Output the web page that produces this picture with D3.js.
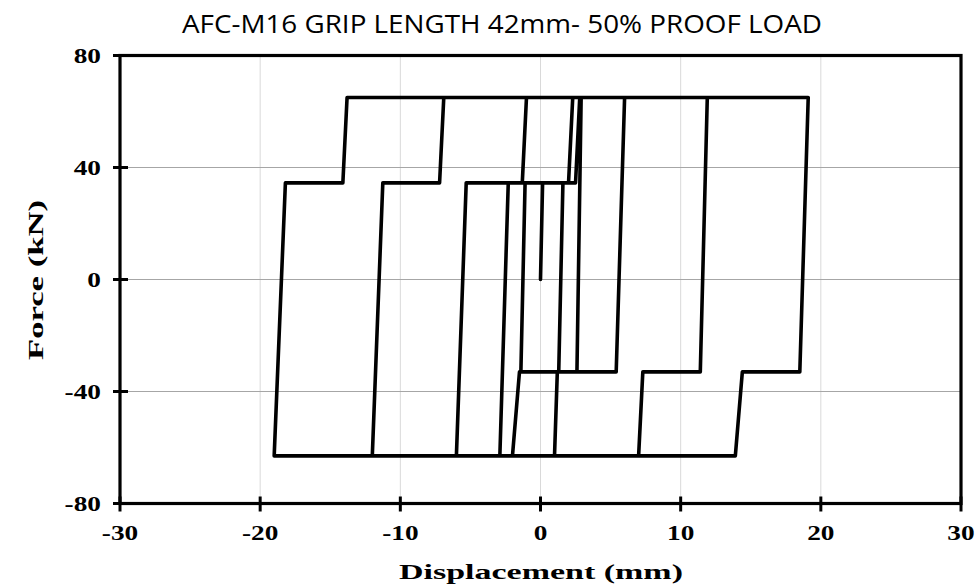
<!DOCTYPE html>
<html>
<head>
<meta charset="utf-8">
<script src="https://cdn.jsdelivr.net/npm/d3@7"></script>
<style>
  body { margin: 0; background: #fff; }
  .tick-label { font-family: "Liberation Serif", "Times New Roman", serif; font-weight: bold; font-size: 21px; }
  .axis-title { font-family: "Liberation Serif", "Times New Roman", serif; font-weight: bold; font-size: 22px; }
  .chart-title { font-family: "Open Sans", "Noto Sans", sans-serif; font-size: 25px; }
</style>
</head>
<body>
<div id="chart"></div>
<script>
// hysteresis record, displacement (mm) and force (kN)
var disp  = [0, 0.15, 1.6, 1.3, -1.4, -1.1, 2.0, 2.3, 2.9, 2.6,
             -1.5, -2.0, -2.9, -2.3, 2.5, 2.8, 6.0, 5.4, 1.2, 1.0,
             -6.0, -5.3, -1.3, -1.0, 11.9, 11.4, 7.3, 7.0, -12.0, -11.25,
             -7.2, -6.9, 19.1, 18.5, 14.4, 13.9, -19.0, -18.2, -14.1, -13.8,
             19.1];
var force = [0, 34.5, 34.5, -33, -33, 34.5, 34.5, 65, 65, -33,
             -33, -63, -63, 34.5, 34.5, 65, 65, -33, -33, -63,
             -63, 34.5, 34.5, 65, 65, -33, -33, -63, -63, 34.5,
             34.5, 65, 65, -33, -33, -63, -63, 34.5, 34.5, 65,
             65];

var xTicks = [-30, -20, -10, 0, 10, 20, 30];
var yTicks = [-80, -40, 0, 40, 80];
var xGrid = [-20, -10, 0, 10, 20];
var yGrid = [-40, 0, 40];

var W = 979, H = 588;
var margin = {top: 55.5, right: 18, bottom: 84.5, left: 120},
    width = W - margin.left - margin.right,
    height = H - margin.top - margin.bottom;

var svg = d3.select("#chart")
  .append("svg")
    .attr("width", W)
    .attr("height", H);

var g = svg.append("g")
    .attr("transform", "translate(" + margin.left + "," + margin.top + ")");

var x = d3.scaleLinear().domain([-30, 30]).range([0, width]);
var y = d3.scaleLinear().domain([-80, 80]).range([height, 0]);

// gridlines
g.selectAll(".vgrid")
  .data(xGrid)
  .enter()
  .append("line")
  .attr("x1", function(d) { return x(d); })
  .attr("x2", function(d) { return x(d); })
  .attr("y1", 0)
  .attr("y2", height)
  .attr("stroke", "#d9d9d9")
  .attr("stroke-width", 1);

g.selectAll(".hgrid")
  .data(yGrid)
  .enter()
  .append("line")
  .attr("x1", 0)
  .attr("x2", width)
  .attr("y1", function(d) { return y(d); })
  .attr("y2", function(d) { return y(d); })
  .attr("stroke", "#a6a6a6")
  .attr("stroke-width", 1.2);

// the curve
var line = d3.line()
  .x(function(i) { return x(disp[i]); })
  .y(function(i) { return y(force[i]); });

g.append("path")
  .datum(d3.range(disp.length))
  .attr("d", line)
  .attr("fill", "none")
  .attr("stroke", "#000")
  .attr("stroke-width", 3.6)
  .attr("stroke-linejoin", "round")
  .attr("stroke-linecap", "round");

// frame
g.append("rect")
  .attr("x", 0).attr("y", 0)
  .attr("width", width).attr("height", height)
  .attr("fill", "none")
  .attr("stroke", "#000")
  .attr("stroke-width", 3.2);

// cross ticks
g.selectAll(".xtick")
  .data(xTicks)
  .enter()
  .append("line")
  .attr("x1", function(d) { return x(d); })
  .attr("x2", function(d) { return x(d); })
  .attr("y1", height - 7)
  .attr("y2", height + 8)
  .attr("stroke", "#000")
  .attr("stroke-width", 3);

g.selectAll(".ytick")
  .data(yTicks)
  .enter()
  .append("line")
  .attr("x1", -7)
  .attr("x2", 8)
  .attr("y1", function(d) { return y(d); })
  .attr("y2", function(d) { return y(d); })
  .attr("stroke", "#000")
  .attr("stroke-width", 3);

// tick labels (the source figure is stretched sideways a bit)
g.selectAll(".xlab")
  .data(xTicks)
  .enter()
  .append("text")
  .attr("class", "tick-label")
  .attr("transform", function(d) { return "translate(" + x(d) + "," + (height + 36) + ")scale(1.3,1)"; })
  .attr("text-anchor", "middle")
  .text(function(d) { return d; });

g.selectAll(".ylab")
  .data(yTicks)
  .enter()
  .append("text")
  .attr("class", "tick-label")
  .attr("transform", function(d) { return "translate(-19," + y(d) + ")scale(1.3,1)"; })
  .attr("dy", "0.35em")
  .attr("text-anchor", "end")
  .text(function(d) { return d; });

// titles
svg.append("text")
  .attr("class", "chart-title")
  .attr("x", 502)
  .attr("y", 33)
  .attr("text-anchor", "middle")
  .attr("textLength", 640)
  .attr("lengthAdjust", "spacingAndGlyphs")
  .text("AFC-M16 GRIP LENGTH 42mm- 50% PROOF LOAD");

svg.append("text")
  .attr("class", "axis-title")
  .attr("x", 541)
  .attr("y", 579)
  .attr("text-anchor", "middle")
  .attr("textLength", 284)
  .attr("lengthAdjust", "spacingAndGlyphs")
  .text("Displacement (mm)");

svg.append("text")
  .attr("class", "axis-title")
  .attr("transform", "translate(43,280)rotate(-90)")
  .attr("text-anchor", "middle")
  .attr("textLength", 160)
  .attr("lengthAdjust", "spacingAndGlyphs")
  .text("Force  (kN)");
</script>
</body>
</html>
